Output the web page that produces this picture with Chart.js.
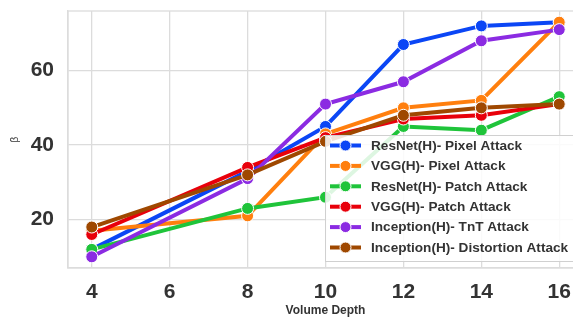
<!DOCTYPE html>
<html>
<head>
<meta charset="utf-8">
<script src="https://cdn.jsdelivr.net/npm/chart.js@4"></script>
<style>
  html, body { margin: 0; padding: 0; background: #fff; overflow: hidden; }
  #wrap { position: absolute; left: 0; top: 0; width: 590px; height: 320px; }
</style>
</head>
<body>
<div id="wrap"><canvas id="betaChart" width="590" height="320"></canvas></div>
<script>
const depths = [4, 8, 10, 12, 14, 16];
const xTicks = [4, 6, 8, 10, 12, 14, 16];
const yTicks = [20, 40, 60];

const resnetPixel = [12, 33, 45, 67, 72, 73];
const vggPixel = [17, 21, 43, 50, 52, 73];
const resnetPatch = [12, 23, 26, 45, 44, 53];
const vggPatch = [16, 34, 42, 47, 48, 51];
const inceptionTnt = [10, 31, 51, 57, 68, 71];
const inceptionDist = [18, 32, 41, 48, 50, 51];

const seriesNames = [
    'ResNet(H)- Pixel Attack',
    'VGG(H)- Pixel Attack',
    'ResNet(H)- Patch Attack',
    'VGG(H)- Patch Attack',
    'Inception(H)- TnT Attack',
    'Inception(H)- Distortion Attack'
];
const seriesValues = [resnetPixel, vggPixel, resnetPatch, vggPatch, inceptionTnt, inceptionDist];
const colors = ['#0b46f5', '#ff7f0e', '#1fc43a', '#e8000b', '#8b2be2', '#9f4800'];

const font = "'Liberation Sans', Arial, sans-serif";

// legend drawn inside the plot, like the seaborn one
const boxLegend = {
    id: 'boxLegend',
    afterDatasetsDraw(chart) {
        const c = chart.ctx;
        c.save();
        c.fillStyle = 'rgba(255,255,255,0.85)';
        c.strokeStyle = '#d0d0d0';
        c.lineWidth = 1;
        c.fillRect(325.5, 135.5, 300, 126);
        c.strokeRect(325.5, 135.5, 300, 126);
        chart.data.datasets.forEach((ds, i) => {
            const y = 145.5 + i * 20.4;
            c.strokeStyle = ds.borderColor;
            c.lineWidth = 4;
            c.beginPath();
            c.moveTo(330, y);
            c.lineTo(361, y);
            c.stroke();
            c.fillStyle = ds.borderColor;
            c.strokeStyle = '#fff';
            c.lineWidth = 1;
            c.beginPath();
            c.arc(345.5, y, 5.5, 0, Math.PI * 2);
            c.fill();
            c.stroke();
            c.fillStyle = '#333';
            c.font = 'bold 13.6px ' + font;
            c.textBaseline = 'middle';
            c.fillText(ds.label, 371, y + 0.5);
        });
        c.restore();
    }
};

const ctx = document.getElementById('betaChart').getContext('2d');
const betaChart = new Chart(ctx, {
    type: 'line',
    data: {
        datasets: seriesNames.map((name, i) => ({
            label: name,
            data: depths.map((d, j) => ({ x: d, y: seriesValues[i][j] })),
            borderColor: colors[i],
            backgroundColor: colors[i],
            borderWidth: 4,
            pointRadius: 6,
            pointBorderColor: '#fff',
            pointBorderWidth: 1,
            tension: 0,
            order: seriesNames.length - i   // later series on top
        }))
    },
    options: {
        responsive: false,
        animation: false,
        layout: { padding: { top: 11, right: 7, left: 0, bottom: 0 } },
        plugins: {
            legend: { display: false },
            tooltip: { enabled: false }
        },
        scales: {
            x: {
                type: 'linear',
                min: 3.39,
                max: 16.61,
                afterBuildTicks: (axis) => { axis.ticks = xTicks.map(v => ({ value: v })); },
                afterFit: (axis) => {
                    axis.height = 52;
                    axis.paddingLeft = 0;
                    axis.paddingRight = 0;
                },
                grid: { color: '#dcdcdc', lineWidth: 1.3, drawTicks: false },
                border: { color: '#dcdcdc', width: 1.3 },
                ticks: {
                    padding: 12,
                    color: '#333',
                    font: { family: font, size: 21, weight: 'bold' }
                },
                title: {
                    display: true,
                    text: 'Volume Depth',
                    color: '#333',
                    padding: { top: 0, bottom: 2 },
                    font: { family: font, size: 12, weight: 'bold' }
                }
            },
            y: {
                min: 7,
                max: 76,
                afterBuildTicks: (axis) => { axis.ticks = yTicks.map(v => ({ value: v })); },
                afterFit: (axis) => {
                    axis.width = 68;
                    axis.paddingTop = 0;
                    axis.paddingBottom = 0;
                },
                grid: { color: '#dcdcdc', lineWidth: 1.3, drawTicks: false },
                border: { color: '#dcdcdc', width: 1.3 },
                ticks: {
                    padding: 14,
                    color: '#333',
                    font: { family: font, size: 21, weight: 'bold' }
                },
                title: {
                    display: true,
                    text: 'β',
                    color: '#333',
                    padding: { top: 9, bottom: 0 },
                    font: { family: font, size: 10 }
                }
            }
        }
    },
    plugins: [boxLegend, {
        id: 'plotBorder',
        beforeDatasetsDraw(chart) {
            const a = chart.chartArea;
            const c = chart.ctx;
            c.save();
            c.strokeStyle = '#dcdcdc';
            c.lineWidth = 1.3;
            c.strokeRect(a.left, a.top, a.right - a.left, a.bottom - a.top);
            c.restore();
        }
    }]
});
</script>
</body>
</html>
